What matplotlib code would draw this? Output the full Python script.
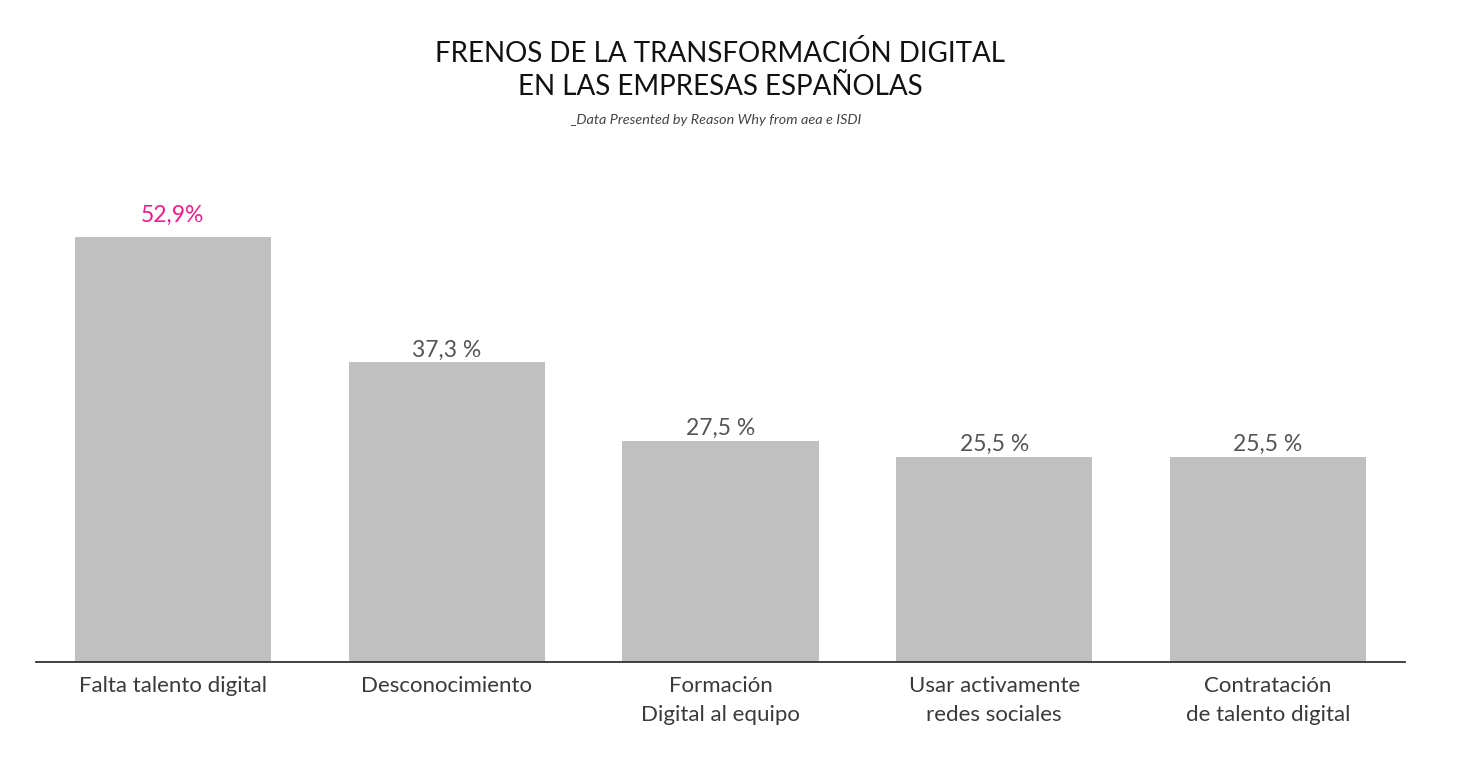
import matplotlib
matplotlib.use("Agg")
import matplotlib.pyplot as plt

categories = ["Falta talento digital", "Desconocimiento", "Formación\nDigital al equipo",
              "Usar activamente\nredes sociales", "Contratación\nde talento digital"]
values = [52.9, 37.3, 27.5, 25.5, 25.5]
value_labels = ["52,9%", "37,3 %", "27,5 %", "25,5 %", "25,5 %"]

plt.rcParams['font.family'] = ['Lato', 'DejaVu Sans']

fig = plt.figure(figsize=(14.68, 7.75), dpi=100)
ax = fig.add_axes([36/1468, 1-662/775, (1405-36)/1468, 482/775])

x = list(range(len(values)))
ax.bar(x, values, width=0.716, color="#c0c0c0", zorder=2)
ax.set_xlim(-0.5, 4.5)
ax.set_ylim(0, 60)

for i, (v, lab) in enumerate(zip(values, value_labels)):
    col = "#ec1e8c" if i == 0 else "#555555"
    off = 15 if i == 0 else 6
    ax.annotate(lab, (i, v), xytext=(0, off), textcoords="offset pixels",
                ha="center", va="baseline", fontsize=16.5, color=col)

for s in ["top", "right", "left"]:
    ax.spines[s].set_visible(False)
ax.spines["bottom"].set_color("#333333")
ax.spines["bottom"].set_linewidth(1.3)
ax.set_yticks([])
ax.set_xticks(x)
ax.set_xticklabels(categories, fontsize=16, color="#3a3a3a", fontweight="normal",
                   linespacing=1.55)
ax.tick_params(axis="x", length=0, pad=10)

fig.text(720/1468, 1-53/775, "FRENOS DE LA TRANSFORMACIÓN DIGITAL", ha="center", va="center",
         fontsize=20, color="#111111", fontweight="normal")
fig.text(720/1468, 1-87/775, "EN LAS EMPRESAS ESPAÑOLAS", ha="center", va="center",
         fontsize=20, color="#111111", fontweight="normal")
fig.text(716/1468, 1-120/775, "_Data Presented by Reason Why from aea e ISDI", ha="center",
         va="center", fontsize=10.4, color="#444444", style="italic", fontweight="normal")

fig.savefig("out.png", dpi=100, facecolor="white")
